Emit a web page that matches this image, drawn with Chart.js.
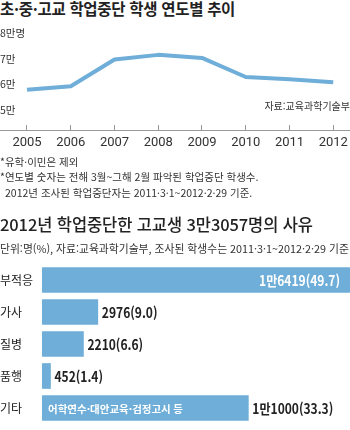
<!DOCTYPE html>
<html lang="ko">
<head>
<meta charset="utf-8">
<script src="https://cdn.jsdelivr.net/npm/chart.js@4.4.0/dist/chart.umd.min.js"></script>
<style>
  body { margin: 0; background: #fff; }
  #wrap { position: relative; width: 350px; height: 430px; overflow: hidden;
          font-family: 'Noto Sans CJK KR', sans-serif; color: #222; }
  .t { position: absolute; left: 0; white-space: nowrap; line-height: 1; }
  #title1 { top: 1px; font-size: 15.5px; font-weight: bold; letter-spacing: -0.3px; }
  #source { top: 101px; left: auto; right: 0; font-size: 10px; color: #333; }
  .note { font-size: 10.5px; color: #333; }
  #note1 { top: 157px; }
  #note2 { top: 172px; }
  #note3 { top: 188px; padding-left: 5px; }
  #title2 { top: 216px; font-size: 16.5px; font-weight: 500; letter-spacing: -0.1px; }
  #sub { top: 243px; font-size: 10.8px; color: #333; }
  #lineBox { position: absolute; left: 0; top: 20px; width: 350px; height: 135px; }
  #barBox { position: absolute; left: 0; top: 264px; width: 350px; height: 160px; }
</style>
</head>
<body>
<div id="wrap">
  <div class="t" id="title1">초·중·고교 학업중단 학생 연도별 추이</div>
  <div id="lineBox"><canvas id="lineChart"></canvas></div>
  <div class="t" id="source">자료:교육과학기술부</div>
  <div class="t note" id="note1">*유학·이민은 제외</div>
  <div class="t note" id="note2">*연도별 숫자는 전해 3월~그해 2월 파악된 학업중단 학생수.</div>
  <div class="t note" id="note3">2012년 조사된 학업중단자는 2011·3·1~2012·2·29 기준.</div>
  <div class="t" id="title2">2012년 학업중단한 고교생 3만3057명의 사유</div>
  <div class="t" id="sub">단위:명(%), 자료:교육과학기술부, 조사된 학생수는 2011·3·1~2012·2·29 기준</div>
  <div id="barBox"><canvas id="barChart"></canvas></div>
</div>
<script>
// 연도별 학업중단 학생 수
const years = [2005, 2006, 2007, 2008, 2009, 2010, 2011, 2012];
const dropouts = [57900, 59300, 69700, 71500, 70300, 62900, 62000, 60900];
const yTicks = [50000, 60000, 70000, 80000];

// 2012년 고교생 학업중단 사유
const reasons = ['부적응', '가사', '질병', '품행', '기타'];
const counts = [16419, 2976, 2210, 452, 11000];
const shares = [49.7, 9.0, 6.6, 1.4, 33.3];
const etcNote = '어학연수·대안교육·검정고시 등';

const KR = "'Noto Sans CJK KR', sans-serif";
const BLUE = '#6eaed8';

function noPad(scale) {
    scale.paddingTop = 0; scale.paddingBottom = 0;
    scale.paddingLeft = 0; scale.paddingRight = 0;
}

function man(n) {
    return n >= 10000 ? Math.floor(n / 10000) + '만' + (n % 10000) : String(n);
}

// 좁은 글꼴 느낌을 내려고 가로로만 줄여서 씀
function drawCondensed(ctx, text, x, y, align, sx) {
    ctx.save();
    ctx.scale(sx, 1);
    ctx.textAlign = align;
    ctx.fillText(text, x / sx, y);
    ctx.restore();
}

// 1. 연도별 추이 (선 그래프)
new Chart(document.getElementById('lineChart'), {
    type: 'line',
    data: {
        datasets: [{
            data: years.map((y, i) => ({ x: y, y: dropouts[i] })),
            borderColor: BLUE,
            borderWidth: 4,
            pointRadius: 0,
            tension: 0,
            borderJoinStyle: 'round'
        }]
    },
    options: {
        responsive: true,
        maintainAspectRatio: false,
        animation: false,
        layout: { padding: { top: 13, left: 0, right: 0, bottom: 0 } },
        plugins: { legend: { display: false }, tooltip: { enabled: false } },
        scales: {
            x: {
                type: 'linear',
                min: 2004.383,
                max: 2012.383,
                afterBuildTicks: s => { s.ticks = years.map(v => ({ value: v })); },
                afterFit: s => { s.height = 25; noPad(s); },
                grid: { drawOnChartArea: false, drawTicks: true, tickLength: -5, color: '#999' },
                border: { display: true, color: '#999', width: 1 },
                ticks: {
                    padding: 10,
                    maxRotation: 0,
                    autoSkip: false,
                    color: '#333',
                    font: { family: 'Roboto', size: 13 },
                    callback: v => String(v)
                }
            },
            y: {
                min: 42300,
                max: 80000,
                afterBuildTicks: s => { s.ticks = yTicks.map(v => ({ value: v })); },
                afterFit: s => { s.width = 0; noPad(s); },
                grid: { display: false },
                border: { display: false },
                ticks: {
                    mirror: true,
                    padding: 0,
                    crossAlign: 'near',
                    color: '#333',
                    font: { family: KR, size: 10.5 },
                    callback: v => v === 80000 ? '8만명' : (v / 10000) + '만'
                }
            }
        }
    }
});

// 2. 사유별 막대 라벨
const barLabels = {
    id: 'barLabels',
    afterDatasetsDraw(chart) {
        const ctx = chart.ctx;
        const bars = chart.getDatasetMeta(0).data;
        const top = Math.max(...counts);
        ctx.save();
        ctx.textBaseline = 'middle';
        ctx.font = 'bold 14px ' + KR;
        bars.forEach((bar, i) => {
            const text = man(counts[i]) + '(' + shares[i].toFixed(1) + ')';
            if (counts[i] === top) {
                ctx.fillStyle = '#fff';
                drawCondensed(ctx, text, bar.x - 10, bar.y + 1, 'right', 0.86);
            } else {
                ctx.fillStyle = '#222';
                drawCondensed(ctx, text, bar.x + 4, bar.y + 1, 'left', 0.86);
            }
        });
        const etc = bars[reasons.indexOf('기타')];
        ctx.font = 'bold 10.5px ' + KR;
        ctx.fillStyle = '#fff';
        ctx.textAlign = 'left';
        ctx.fillText(etcNote, etc.base + 6, etc.y + 1);
        ctx.restore();
    }
};

new Chart(document.getElementById('barChart'), {
    type: 'bar',
    data: {
        labels: reasons,
        datasets: [{
            data: counts,
            backgroundColor: BLUE,
            barThickness: 25
        }]
    },
    options: {
        indexAxis: 'y',
        responsive: true,
        maintainAspectRatio: false,
        animation: false,
        layout: { padding: 0 },
        plugins: { legend: { display: false }, tooltip: { enabled: false } },
        scales: {
            x: { display: false, min: 0, max: Math.max(...counts) },
            y: {
                afterFit: s => { s.width = 42; noPad(s); },
                grid: { display: false },
                border: { display: false },
                ticks: {
                    crossAlign: 'far',
                    padding: 0,
                    color: '#222',
                    font: { family: KR, size: 12 }
                }
            }
        }
    },
    plugins: [barLabels]
});
</script>
</body>
</html>
